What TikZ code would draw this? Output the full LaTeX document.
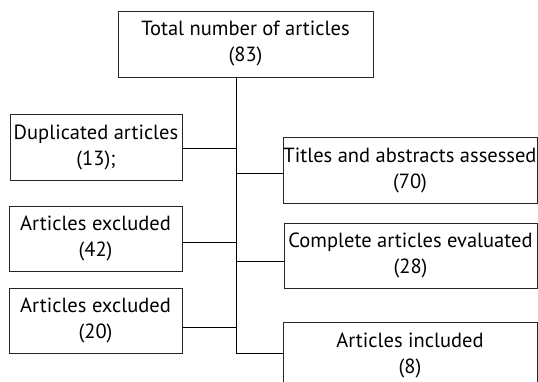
\documentclass[tikz,border=0pt]{standalone}
\usepackage{fontspec}
\setmainfont{PT Sans}
\usepackage{tikz}

\begin{document}
\begin{tikzpicture}[x=1pt, y=-1pt, line width=0.9pt,
		box/.style={rectangle,draw=black!85,inner sep=0pt,align=center,
		font=\fontsize{20.5}{26}\selectfont}]

		\useasboundingbox (0,0) rectangle (538,382);

		\node[box] [minimum width=255pt, minimum height=66pt] (T) at (245.5,44) {Total number of articles\\(83)};
		\node[box] [minimum width=172pt, minimum height=66pt] (D) at (96,147) {Duplicated articles\\(13);};
		\node[box] [minimum width=173pt, minimum height=65pt] (E1) at (95.5,238.5) {Articles excluded\\(42)};
		\node[box] [minimum width=173pt, minimum height=65pt] (E2) at (95.5,320.5) {Articles excluded\\(20)};
		\node[box] [minimum width=254pt, minimum height=66pt] (TA) at (410,170) {Titles and abstracts assessed\\(70)};
		\node[box] [minimum width=253pt, minimum height=65pt] (CA) at (410.5,255.5) {Complete articles evaluated\\(28)};
		\node[box] [minimum width=254pt, minimum height=66pt] (AI) at (410,355) {Articles included\\(8)};

		\coordinate (trunk) at (236,354);
		\coordinate (c1) at (236,148);
		\coordinate (c2) at (236,173);
		\coordinate (c3) at (236,242);
		\coordinate (c4) at (236,261);
		\coordinate (c5) at (236,327);
		\coordinate (c6) at (236,353);

		\draw (T.south -| trunk) -- (trunk);
		\draw (D.east |- c1) -- (c1);
		\draw (c2) -- (TA.west |- c2);
		\draw (E1.east |- c3) -- (c3);
		\draw (c4) -- (CA.west |- c4);
		\draw (E2.east |- c5) -- (c5);
		\draw (c6) -- (AI.west |- c6);
\end{tikzpicture}
\end{document}
